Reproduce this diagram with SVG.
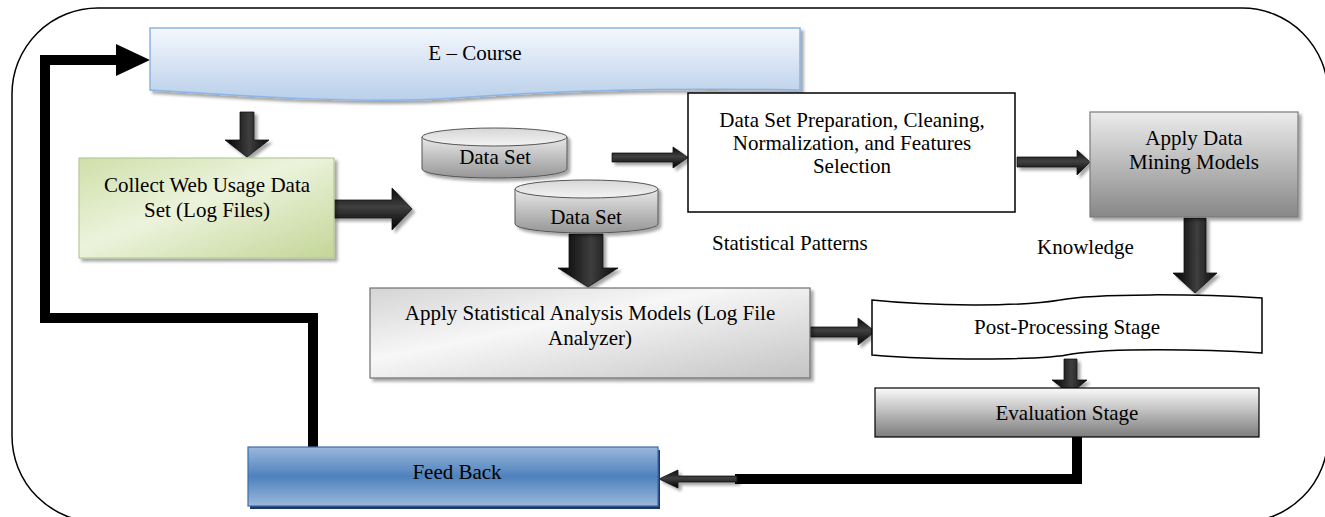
<svg xmlns="http://www.w3.org/2000/svg" width="1325" height="517" viewBox="0 0 1325 517">
<style>
text{font-family:"Liberation Serif","Times New Roman",serif;font-size:21px;fill:#000;text-anchor:middle}
.t{text-anchor:start}
.ba{stroke:#111;stroke-width:0.8;filter:url(#sh)}
.loop{fill:none;stroke:#000;stroke-width:10;stroke-linejoin:miter}
</style>
<defs>
<filter id="sh" x="-10%" y="-10%" width="130%" height="140%"><feDropShadow dx="3" dy="3" stdDeviation="1.8" flood-color="#000" flood-opacity="0.35"/></filter>
<linearGradient id="gBlue" x1="0" y1="0" x2="0" y2="1"><stop offset="0" stop-color="#f4f8fd"/><stop offset="1" stop-color="#b9cfea"/></linearGradient>
<linearGradient id="gGreen" x1="0" y1="0" x2="1" y2="1"><stop offset="0" stop-color="#cfdfa9"/><stop offset="0.45" stop-color="#ecf3dc"/><stop offset="1" stop-color="#c3d697"/></linearGradient>
<linearGradient id="gDM" x1="0" y1="0" x2="0" y2="1"><stop offset="0" stop-color="#ececec"/><stop offset="1" stop-color="#878787"/></linearGradient>
<linearGradient id="gStat" x1="0" y1="0" x2="1" y2="1"><stop offset="0" stop-color="#d4d4d4"/><stop offset="0.4" stop-color="#f7f7f7"/><stop offset="1" stop-color="#c4c4c4"/></linearGradient>
<linearGradient id="gEval" x1="0" y1="0" x2="0" y2="1"><stop offset="0" stop-color="#fafafa"/><stop offset="1" stop-color="#7c7c7c"/></linearGradient>
<linearGradient id="gFB" x1="0" y1="0" x2="0" y2="1"><stop offset="0" stop-color="#9bb8dc"/><stop offset="0.5" stop-color="#4f81bd"/><stop offset="1" stop-color="#9bb8dc"/></linearGradient>
<linearGradient id="gCyl" x1="0" y1="0" x2="0" y2="1"><stop offset="0" stop-color="#e8e8e8"/><stop offset="1" stop-color="#969696"/></linearGradient>
<linearGradient id="gCylTop" x1="0" y1="0" x2="0" y2="1"><stop offset="0" stop-color="#d6d6d6"/><stop offset="1" stop-color="#f4f4f4"/></linearGradient>
<linearGradient id="gArV" x1="0" y1="0" x2="1" y2="0"><stop offset="0" stop-color="#000"/><stop offset="0.55" stop-color="#3e3e3e"/><stop offset="1" stop-color="#0a0a0a"/></linearGradient>
<linearGradient id="gArH" x1="0" y1="0" x2="0" y2="1"><stop offset="0" stop-color="#0a0a0a"/><stop offset="0.45" stop-color="#404040"/><stop offset="1" stop-color="#000"/></linearGradient>
</defs>

<g id="frame">
<rect x="12" y="8" width="1316" height="514" rx="86" ry="86" fill="none" stroke="#000" stroke-width="1.5"/>
</g>

<g id="connectors">
<polyline class="loop" points="313,447 313,318 45,318 45,60 118,60"/>
<polygon points="116,44 150,60 116,76" fill="#000"/>
<polyline class="loop" points="1077,423 1077,479 735,479" stroke-width="9"/>
<path class="ba" fill="url(#gArH)" d="M737,476 H678 V470 L659,479 L678,488 V482 H737 Z"/>
<path class="ba" fill="url(#gArV)" d="M240,112 H254 V140 H269 L247,157 L225,140 H240 Z"/>
<path class="ba" fill="url(#gArH)" d="M333,200 H392 V188 L412,209 L392,230 V218 H333 Z"/>
<path class="ba" fill="url(#gArH)" d="M612,153 H673 V147 L688,157.5 L673,168 V162 H612 Z"/>
<path class="ba" fill="url(#gArH)" d="M1017,157 H1077 V150 L1090,162 L1077,175 V167 H1017 Z"/>
<path class="ba" fill="url(#gArV)" d="M569,234 H603 V268 H618 L588,287 L558,268 H569 Z"/>
<path class="ba" fill="url(#gArV)" d="M1184,218 H1206 V273 H1217 L1195,293 L1173,273 H1184 Z"/>
<path class="ba" fill="url(#gArH)" d="M810,327 H858 V318 L875,331.5 L858,345 V337 H810 Z"/>
<path class="ba" fill="url(#gArV)" d="M1064,359 H1077 V380 H1087 L1070,394 L1052,380 H1064 Z"/>
</g>

<g id="ecourse">
<path d="M150,28 H800 V90 C690,88 560,90 455,98 C370,104 260,97 150,90 Z" fill="url(#gBlue)" stroke="#8db3e2" stroke-width="1.5" filter="url(#sh)"/>
<text x="475" y="60">E – Course</text>
</g>

<g id="collect">
<rect x="79" y="158" width="255" height="100" fill="url(#gGreen)" stroke="#b7c99a" stroke-width="1.2" filter="url(#sh)"/>
<text x="207" y="192">Collect Web Usage Data</text>
<text x="207" y="217">Set (Log Files)</text>
</g>

<g id="dataset1">
<g filter="url(#sh)">
<path d="M422,137 V169 A72.5,9 0 0 0 567,169 V137 Z" fill="url(#gCyl)" stroke="#555" stroke-width="1"/>
<ellipse cx="494.5" cy="137" rx="72.5" ry="9" fill="url(#gCylTop)" stroke="#555" stroke-width="1"/>
</g>
<text x="495" y="164">Data Set</text>
</g>

<g id="dataset2">
<g filter="url(#sh)">
<path d="M515,189 V224 A71.5,9 0 0 0 658,224 V189 Z" fill="url(#gCyl)" stroke="#555" stroke-width="1"/>
<ellipse cx="586.5" cy="189" rx="71.5" ry="9" fill="url(#gCylTop)" stroke="#555" stroke-width="1"/>
</g>
<text x="586" y="224">Data Set</text>
</g>

<g id="preparation">
<rect x="688" y="93" width="327" height="119" fill="#fff" stroke="#000" stroke-width="1.5"/>
<text x="852" y="127">Data Set Preparation, Cleaning,</text>
<text x="852" y="150">Normalization, and Features</text>
<text x="852" y="173">Selection</text>
</g>

<g id="datamining">
<rect x="1090" y="112" width="208" height="105" fill="url(#gDM)" stroke="#7a7a7a" stroke-width="1.2" filter="url(#sh)"/>
<text x="1194" y="145">Apply Data</text>
<text x="1194" y="169">Mining Models</text>
</g>

<g id="labels">
<text class="t" x="712" y="250">Statistical Patterns</text>
<text class="t" x="1037" y="254">Knowledge</text>
</g>

<g id="statistical">
<rect x="370" y="288" width="440" height="90" fill="url(#gStat)" stroke="#6f6f6f" stroke-width="1.2" filter="url(#sh)"/>
<text x="590" y="320">Apply Statistical Analysis Models (Log File</text>
<text x="590" y="345">Analyzer)</text>
</g>

<g id="postprocessing">
<path d="M872,300 C930,306 1020,307 1060,300 C1095,293 1200,294 1262,298 V353 C1200,349 1110,348 1072,354 C1040,361 930,360 872,355 Z" fill="#fff" stroke="#000" stroke-width="1.5"/>
<text x="1067" y="334">Post-Processing Stage</text>
</g>

<g id="evaluation">
<rect x="875" y="388" width="384" height="49" fill="url(#gEval)" stroke="#000" stroke-width="1.2"/>
<text x="1067" y="420">Evaluation Stage</text>
</g>

<g id="feedback">
<rect x="250" y="450" width="410" height="59" fill="#1f3864"/>
<rect x="248" y="447" width="410" height="59" fill="url(#gFB)" stroke="#3d6ca8" stroke-width="1.2"/>
<text x="457" y="479">Feed Back</text>
</g>
</svg>
